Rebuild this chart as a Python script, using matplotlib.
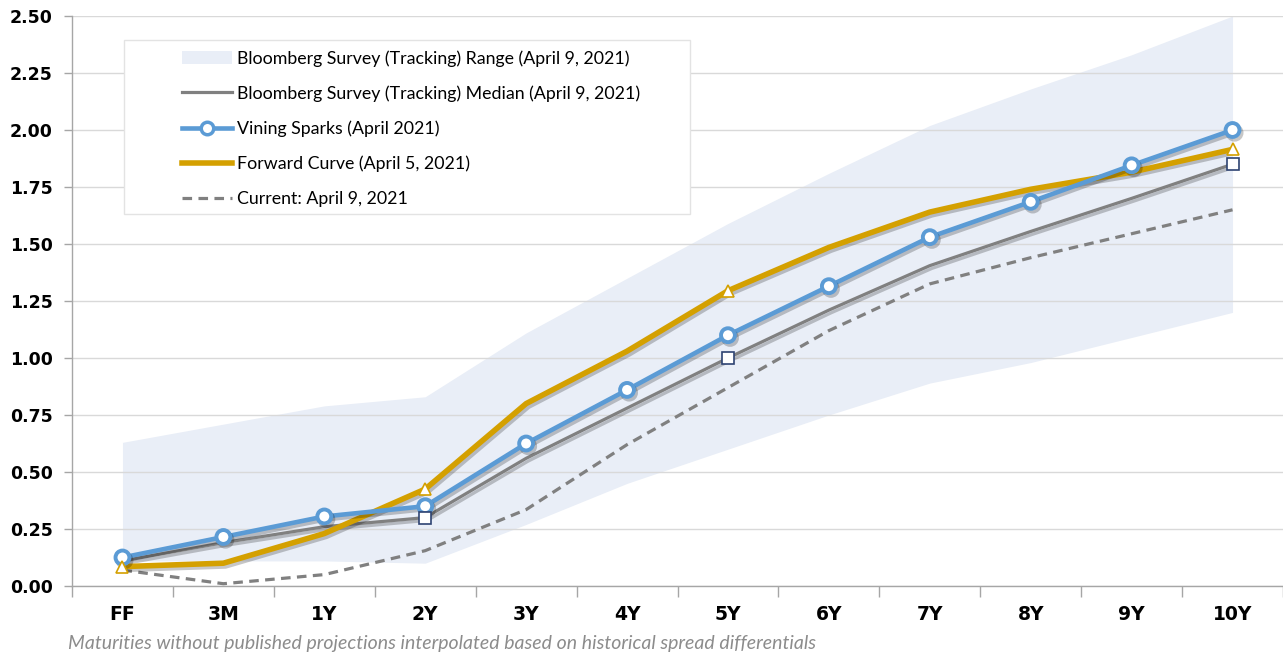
import matplotlib
matplotlib.use("Agg")
import matplotlib.pyplot as plt
from matplotlib.lines import Line2D
from matplotlib.patches import Patch, Rectangle
import matplotlib.patheffects as pe

categories = ["FF", "3M", "1Y", "2Y", "3Y", "4Y", "5Y", "6Y", "7Y", "8Y", "9Y", "10Y"]
range_low = [0.11, 0.11, 0.11, 0.10, 0.27, 0.45, 0.60, 0.75, 0.89, 0.98, 1.09, 1.20]
range_high = [0.63, 0.71, 0.79, 0.83, 1.11, 1.35, 1.59, 1.81, 2.02, 2.18, 2.33, 2.50]
median = [0.11, 0.19, 0.26, 0.30, 0.56, 0.78, 1.00, 1.21, 1.405, 1.555, 1.70, 1.85]
vining = [0.125, 0.215, 0.305, 0.35, 0.625, 0.86, 1.10, 1.315, 1.53, 1.685, 1.845, 2.00]
forward = [0.085, 0.10, 0.23, 0.425, 0.80, 1.03, 1.295, 1.485, 1.64, 1.74, 1.815, 1.915]
current = [0.07, 0.01, 0.05, 0.155, 0.335, 0.62, 0.87, 1.12, 1.325, 1.44, 1.545, 1.65]
median_marked = [3, 6, 11]
forward_marked = [0, 3, 6, 11]
yticks = [0.00, 0.25, 0.50, 0.75, 1.00, 1.25, 1.50, 1.75, 2.00, 2.25, 2.50]

labels = [
    "Bloomberg Survey (Tracking) Range (April 9, 2021)",
    "Bloomberg Survey (Tracking) Median (April 9, 2021)",
    "Vining Sparks (April 2021)",
    "Forward Curve (April 5, 2021)",
    "Current: April 9, 2021",
]

BAND = "#E9EEF7"
BLUE = "#5B9BD5"
GOLD = "#D4A000"
GREY = "#808080"
NAVY = "#2E4372"
W, H = 1283, 658

fig = plt.figure(figsize=(W / 100, H / 100), dpi=100)
ax = fig.add_axes([72 / W, 72 / H, 1211 / W, 570 / H])

x = list(range(len(categories)))
shadow = [pe.SimpleLineShadow(offset=(1.5, -2), alpha=0.22, shadow_color="black"), pe.Normal()]

ax.fill_between(x, range_low, range_high, color=BAND, linewidth=0, zorder=1)
ax.plot(x, current, color=GREY, lw=2.3, ls=(0, (3, 2)), zorder=2)
ax.plot(x, median, color=GREY, lw=2.3, zorder=3, path_effects=shadow)
ax.plot([x[i] for i in median_marked], [median[i] for i in median_marked], ls="none",
        marker="s", ms=8, mfc="white", mec=NAVY, mew=1.2, zorder=6)
ax.plot(x, forward, color=GOLD, lw=4, zorder=4, path_effects=shadow)
ax.plot([x[i] for i in forward_marked], [forward[i] for i in forward_marked], ls="none",
        marker="^", ms=9, mfc="white", mec=GOLD, mew=1.2, zorder=6)
ax.plot(x, vining, color=BLUE, lw=3.3, zorder=5, marker="o", ms=10, mfc="white",
        mec=BLUE, mew=2.8, path_effects=shadow)

ax.set_xlim(-0.5, 11.5)
ax.set_ylim(0, 2.5)
ax.set_yticks(yticks)
ax.set_yticklabels([f"{v:.2f}" for v in yticks], fontsize=12.5, fontweight="bold",
                   family="DejaVu Sans")
ax.set_xticks([i + 0.5 for i in range(-1, 12)])
ax.set_xticklabels([])
ax.set_xticks(x, minor=True)
ax.set_xticklabels(categories, minor=True, fontsize=13.5, fontweight="bold",
                   family=["Liberation Sans Narrow", "DejaVu Sans"])
ax.tick_params(axis="x", which="minor", length=0, pad=14)
ax.tick_params(axis="x", which="major", length=8, color="#A6A6A6", width=1)
ax.tick_params(axis="y", length=6, color="#A6A6A6", width=1, pad=8)
ax.yaxis.grid(True, color="#D9D9D9", lw=1)
for s in ["top", "right"]:
    ax.spines[s].set_visible(False)
for s in ["left", "bottom"]:
    ax.spines[s].set_color("#A6A6A6")
    ax.spines[s].set_linewidth(1)

# legend box
box = Rectangle((124 / W, 1 - 214 / H), 566 / W, 174 / H, transform=fig.transFigure,
                facecolor="white", edgecolor="#E3E3E3", lw=1, zorder=9)
ax.add_patch(box)
box.set_clip_on(False)

handles = [
    Patch(facecolor=BAND, edgecolor="none"),
    Line2D([], [], color=GREY, lw=2.3),
    Line2D([], [], color=BLUE, lw=3.3, marker="o", ms=9, mfc="white", mec=BLUE, mew=2.5),
    Line2D([], [], color=GOLD, lw=4),
    Line2D([], [], color=GREY, lw=2.3, ls=(0, (3, 2))),
]
leg = ax.legend(handles, labels, loc="upper left",
                bbox_to_anchor=(182 / W, 1 - 50 / H), bbox_transform=fig.transFigure,
                borderaxespad=0, borderpad=0,
                prop={"family": "Lato", "size": 12.8}, frameon=False,
                handlelength=2.8, handleheight=0.75, handletextpad=0.3,
                labelspacing=1.05)
leg.set_zorder(10)

fig.text(68 / W, 1 - 643 / H, "Maturities without published projections interpolated based on historical spread differentials",
         fontsize=14, style="italic", color="#8C8C8C", family="Lato", va="center", ha="left")

fig.savefig("out.png", dpi=100)
